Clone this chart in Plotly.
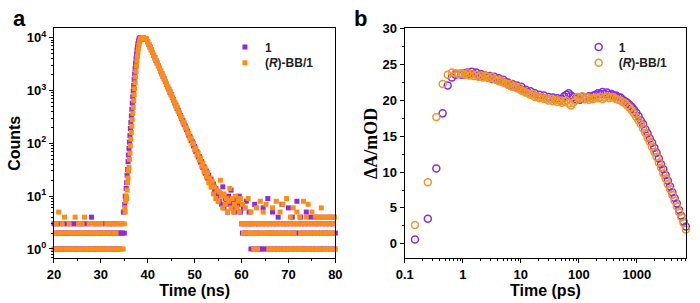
import numpy as np
import plotly.graph_objects as go

# ---------------- Panel a: TCSPC decay (counts vs time, ns) ----------------
# series "1" (purple)
p1_pre = [3,1,2,3,1,2,3,1,2,1, 3,2,1,2,3,1,2,1,3,2, 1,3,2,1,3,2,1,2,3,1,
          3,2,1,3,2,1,2,3,1,2, 4,1,2,3,1,2,1,3,2,1, 2,3,1,2,1,3,2,1,2,3,
          1,2,3,1,2,1,3,2,1,2, 1,2,3,2,5,2]                      # t = 20.0 + 0.2k
p1_rise = [7,10,9,14,18,25,32,45,60,80, 105,140,190,250,330,440,580,760,980,1250,
           1600,2050,2600,3250,4000,4900,5800,6700,7600,8400, 9000,9500,9800,10000,10000,
           9950,9900,9850,9800,9700, 9650,9600,9550,9450,9400]   # t = 35.1 + 0.1k
p1_decay = [9300,8350,7380,6640,5860,5270,4650,4190,3700,3330,
            2930,2650,2330,2100,1850,1670,1470,1330,1165,1055,
            925,840,735,668,582,530,462,422,366,336,
            290,268,229,213,181,170,143,135,113,108,
            89,87,70,69,55,56,44,45,35,36,
            27,30,22,25,18,21,15,17,12,14,
            10,12,8,11,7,15,6,9,8,5,
            10,7,13,6,8,5,9,6,7,10, 5]                            # t = 39.75 + 0.25k
p1_tail = [3,2,6,3,2,8,3,2,5,3, 1,3,2,1,7,3,2,1,3,1, 2,1,3,6,1,2,3,1,9,2,
           3,1,2,5,3,1,2,3,1,4, 2,3,1,7,2,3,1,2,3,1, 6,2,3,1,4,2,3,1,2,8,
           3,1,2,4,3,1,2,3,1,5, 2,3,1,4,2,3,1,2,4,3, 1,2,3,4,1,2,3,1,4,2,
           3,1,2,4,3,1,2,3,4,1, 2]                                # t = 60.0 + 0.2k

# series "(R)-BB/1" (orange)
p2_pre = [1,2,3,1,5,2,1,3,2,4, 1,2,1,3,2,1,2,1,4,2, 1,3,2,1,3,2,4,1,2,1,
          3,2,1,2,3,1,2,3,1,2, 3,1,2,1,2,3,1,2,3,1, 3,2,1,2,3,1,3,1,3,1, 3]   # t = 20.0 + 0.25k
p2_rise = [6,5,8,10,9,13,18,22,30,35, 50,65,90,120,160,210,280,370,480,640,
           830,1080,1400,1800,2300,2900,3600,4400,5300,6200, 7100,7900,8600,9200,9600,
           9850,10000,10000,9950,9900, 9850,9800,9700,9600,9500]  # t = 35.1 + 0.1k
p2_decay = [9400,8300,7450,6580,5920,5230,4700,4150,3730,3290,
            2970,2610,2360,2070,1880,1640,1500,1300,1190,1030,
            950,815,755,645,600,510,480,405,385,320,
            305,250,245,198,194,158,155,124,125,98,
            100,76,81,60,65,48,52,37,42,29,
            34,23,28,18,22,15,19,11,15,9,
            13,8,12,20,10,6,11,7,9,5,
            8,14,6,9,5,7,10,6,8,5, 9]                             # t = 39.75 + 0.25k
p2_tail = [3,7,2,3,6,2,3,9,3,2, 5,3,2,1,3,2,6,1,3,2, 8,3,2,5,3,2,7,3,2,1,
           3,2,1,6,3,2,1,8,3,2, 1,5,3,2,7,1,3,2,9,1, 3,2,4,1,3,6,2,1,3,5,
           3,1,4,2,3,1,8,2,3,4, 1,7,2,3,1,5,2,3,1,4, 2,3,4,1,2,6,3,4,1,2,
           3,4,1,2,3,4,1,2,3,4, 1]                                # t = 60.0 + 0.2k

# ---------------- Panel b: transient absorption kinetics ----------------
tb_early = [0.15, 0.25, 0.35, 0.45, 0.55, 0.65, 0.75, 0.85, 0.95]
b1_early = [0.6, 3.5, 10.5, 18.2, 22.1, 23.2, 23.6, 23.7, 23.6]
b2_early = [2.6, 8.6, 17.7, 22.3, 23.6, 23.9, 23.8, 23.7, 23.8]
b1_late = [23.6,23.8,23.9,23.7,24.0,23.7,23.9,23.5,23.7,23.4,
           23.5,23.2,23.4,23.0,23.3,22.9,23.1,22.7,22.9,22.5,
           22.5,22.1,22.3,21.9,22.1,21.7,21.9,21.4,21.5,21.1,
           21.3,20.9,21.0,20.6,20.8,20.5,20.7,20.3,20.5,20.2,
           20.4,20.1,20.3,20.0,20.2,20.6,20.8,21.0,20.7,20.5,
           20.2,20.4,20.1,20.5,20.2,20.4,20.6,20.3,20.7,20.8,
           21.0,20.9,21.2,20.9,21.1,20.8,20.9,20.7,20.7,20.5,
           20.4,20.1,19.9,19.7,19.4,19.1,18.7,18.3,17.8,17.2,
           16.7,16.0,15.4,14.7,14.1,13.4,12.7,11.9,11.1,10.4,
           9.6,8.8,8.0,7.2,6.4,5.6,4.7,3.9,3.1,2.4]
b2_late = [23.7,23.6,23.8,23.5,23.7,23.4,23.6,23.3,23.5,23.2,
           23.4,23.3,23.1,23.3,23.0,22.9,22.7,22.8,22.5,22.4,
           22.2,22.3,21.9,22.0,21.7,21.8,21.4,21.3,21.1,21.0,
           20.8,20.9,20.5,20.6,20.3,20.5,20.2,20.3,20.0,20.2,
           19.9,20.1,19.8,20.0,19.7,19.9,20.0,19.6,19.3,19.7,
           20.0,20.5,20.3,20.6,20.2,20.4,20.1,20.3,20.2,20.4,
           20.3,20.5,20.2,20.4,20.6,20.3,20.5,20.4,20.2,20.1,
           20.0,19.8,19.6,19.3,19.0,18.6,18.2,17.7,17.2,16.7,
           16.1,15.5,14.8,14.2,13.5,12.8,12.1,11.3,10.6,9.8,
           9.1,8.3,7.6,6.8,6.0,5.2,4.4,3.7,2.9,2.0]
tb_late = np.geomspace(1.0, 7000.0, len(b1_late))

# ---------------- assemble ----------------
def times(start, step, n):
    return start + step * np.arange(n)

ta1 = np.concatenate([times(20.0, 0.2, len(p1_pre)), times(35.1, 0.1, len(p1_rise)),
                      times(39.75, 0.25, len(p1_decay)), times(60.0, 0.2, len(p1_tail))])
ya1 = p1_pre + p1_rise + p1_decay + p1_tail
ta2 = np.concatenate([times(20.0, 0.25, len(p2_pre)), times(35.1, 0.1, len(p2_rise)),
                      times(39.75, 0.25, len(p2_decay)), times(60.0, 0.2, len(p2_tail))])
ya2 = p2_pre + p2_rise + p2_decay + p2_tail

tb = np.concatenate([tb_early, tb_late])
yb1 = b1_early + b1_late
yb2 = b2_early + b2_late

PURPLE = "#8A2BE2"
ORANGE = "#FF8C1A"
ORANGE_B = "#F0962A"
FONT = "Liberation Sans"

fig = go.Figure()
fig.add_trace(go.Scatter(x=ta1, y=ya1, mode="markers", name="<b>1</b>",
                         marker=dict(symbol="square", size=5, color=PURPLE),
                         xaxis="x", yaxis="y", legend="legend", cliponaxis=False))
fig.add_trace(go.Scatter(x=ta2, y=ya2, mode="markers", name="<b>(<i>R</i>)-BB/1</b>",
                         marker=dict(symbol="square", size=5, color=ORANGE),
                         xaxis="x", yaxis="y", legend="legend2", cliponaxis=False))
fig.add_trace(go.Scatter(x=tb, y=yb1, mode="markers", name="<b>1</b>",
                         marker=dict(symbol="circle-open", size=7, color=PURPLE,
                                     line=dict(width=1.5, color=PURPLE)),
                         xaxis="x2", yaxis="y2", legend="legend3", cliponaxis=False))
fig.add_trace(go.Scatter(x=tb, y=yb2, mode="markers", name="<b>(<i>R</i>)-BB/1</b>",
                         marker=dict(symbol="circle-open", size=7, color=ORANGE_B,
                                     line=dict(width=1.5, color=ORANGE_B)),
                         xaxis="x2", yaxis="y2", legend="legend4", cliponaxis=False))

W, H = 700, 303
def dx(a, b): return [a / W, b / W]
def dy(top, bot): return [1 - bot / H, 1 - top / H]

axis_common = dict(showline=True, linecolor="black", linewidth=1.3, mirror=True,
                   ticks="outside", ticklen=4, tickwidth=1.2, tickcolor="black",
                   showgrid=False, zeroline=False,
                   tickfont=dict(family=FONT, size=13, color="black", weight="bold"))
title_font = dict(family=FONT, size=16, color="black")

minor_a_y = [m * 10 ** d for d in range(-1, 5) for m in range(2, 10)]
minor_b_x = [m * 10 ** d for d in range(-1, 4) for m in range(2, 10)]

def leg(xpx, ypx):
    return dict(x=xpx / W, y=1 - ypx / H, xanchor="left", yanchor="middle",
                bgcolor="rgba(0,0,0,0)", borderwidth=0,
                font=dict(family=FONT, size=12, color="#222"), itemwidth=30)

fig.update_layout(
    width=W, height=H, margin=dict(l=0, r=0, t=0, b=0),
    paper_bgcolor="white", plot_bgcolor="white", showlegend=True,
    xaxis=dict(axis_common, domain=dx(46, 334), range=[20, 80], dtick=10, tick0=20,
               minor=dict(ticks="outside", ticklen=2, tickcolor="black", dtick=5),
               title=dict(text="<b>Time (ns)</b>", font=title_font, standoff=1),
               anchor="y"),
    yaxis=dict(axis_common, domain=dy(22, 257), type="log", range=[-0.172, 4.174],
               tickvals=[1, 10, 100, 1000, 10000],
               ticktext=["10<sup>0</sup>", "10<sup>1</sup>", "10<sup>2</sup>",
                         "10<sup>3</sup>", "10<sup>4</sup>"],
               minor=dict(ticks="outside", ticklen=2, tickcolor="black", tickvals=minor_a_y),
               title=dict(text="<b>Counts</b>", font=title_font, standoff=2),
               anchor="x"),
    xaxis2=dict(axis_common, domain=dx(405, 693), type="log", range=[-1, 3.85],
                tickvals=[0.1, 1, 10, 100, 1000], ticktext=["0.1", "1", "10", "100", "1000"],
                minor=dict(ticks="outside", ticklen=2, tickcolor="black", tickvals=minor_b_x),
                title=dict(text="<b>Time (ps)</b>", font=title_font, standoff=1),
                anchor="y2"),
    yaxis2=dict(axis_common, domain=dy(22, 257), range=[-2.0, 30.05], dtick=5, tick0=0,
                minor=dict(ticks="outside", ticklen=2, tickcolor="black", dtick=2.5),
                title=dict(text="<b>ΔA/mOD</b>",
                           font=dict(family="Liberation Serif", size=18, color="black"),
                           standoff=0),
                anchor="x2"),
    legend=leg(221, 41),
    legend2=leg(221, 57),
    legend3=leg(583, 41),
    legend4=leg(583, 57),
    annotations=[
        dict(text="<b>a</b>", x=11 / W, y=1 - 12 / H, xref="paper", yref="paper",
             xanchor="center", yanchor="middle", showarrow=False,
             font=dict(family=FONT, size=22, color="black")),
        dict(text="<b>b</b>", x=360 / W, y=1 - 12 / H, xref="paper", yref="paper",
             xanchor="center", yanchor="middle", showarrow=False,
             font=dict(family=FONT, size=22, color="black")),
    ],
)

fig.write_html("out.html", config={"displayModeBar": False},
               post_script="document.body.style.margin='0';document.body.style.padding='0';")
